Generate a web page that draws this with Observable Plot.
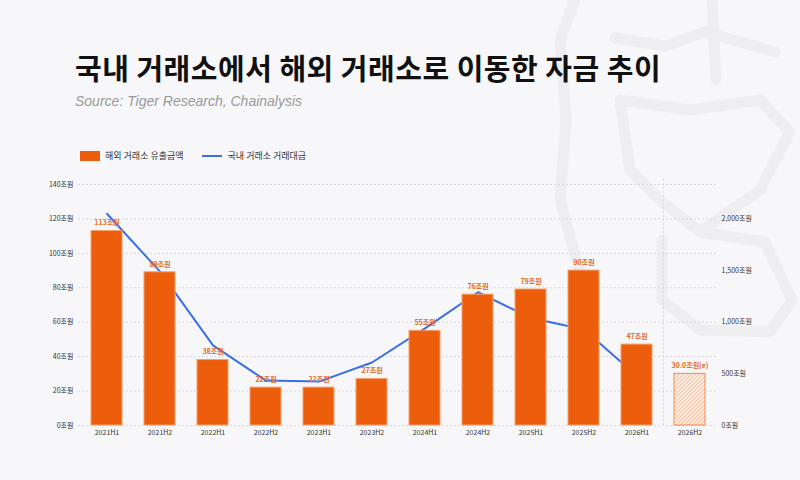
<!DOCTYPE html>
<html><head><meta charset="utf-8">
<script src="https://cdn.jsdelivr.net/npm/d3@7"></script>
<script src="https://cdn.jsdelivr.net/npm/@observablehq/plot@0.6"></script>
<style>
body{margin:0;width:800px;height:480px;background:#f7f7f9;position:relative;overflow:hidden;font-family:"Noto Sans CJK KR","Noto Sans",sans-serif;}
#wm{position:absolute;left:0;top:0}
#title{position:absolute;left:75px;top:46px;font-size:29px;font-weight:700;color:#111;letter-spacing:0.5px;white-space:nowrap}
#sub{position:absolute;left:75px;top:93px;font:italic 14px "Liberation Sans",Arial,sans-serif;color:#9a9a9a}
#legend{position:absolute;left:80px;top:149px;font-size:9px;color:#333;display:flex;align-items:center;white-space:nowrap}
#chart{position:absolute;left:0;top:170px}
</style></head>
<body>
<svg id="wm" width="800" height="480" fill="none" stroke="#eeeef1" stroke-width="11" stroke-linejoin="round" stroke-linecap="round">
  <path d="M575 0 L560 40 L566 120 L560 200 L580 272"/>
  <path d="M615 38 L665 46 L705 32 L775 52"/>
  <path d="M712 0 L716 80"/>
  <path d="M620 100 L690 110 L760 100 L790 132 L760 190 L700 232 L660 200 L630 170 Z"/>
  <path d="M700 232 L765 242 L792 300 L770 332 L700 330 L662 300 L662 240"/>
</svg>
<div id="title">국내 거래소에서 해외 거래소로 이동한 자금 추이</div>
<div id="sub">Source: Tiger Research, Chainalysis</div>
<div id="legend">
  <span style="display:inline-block;width:20px;height:10px;background:#EC5E0C;margin-right:5px"></span>
  <span>해외 거래소 유출금액</span>
  <span style="display:inline-block;width:20px;height:2px;background:#3b6fe3;margin:0 6px 0 18px"></span>
  <span>국내 거래소 거래대금</span>
</div>
<div id="chart"></div>
<script>
const periods = ["2021H1","2021H2","2022H1","2022H2","2023H1","2023H2","2024H1","2024H2","2025H1","2025H2","2026H1","2026H2"];
const outflow = [113, 89, 38, 22, 22, 27, 55, 76, 79, 90, 47, 30];
const outflowLabels = ["113조원","89조원","38조원","22조원","22조원","27조원","55조원","76조원","79조원","90조원","47조원","30.0조원(e)"];
const volume = [2050, 1490, 775, 435, 425, 610, 940, 1290, 1040, 930, 480];
const leftTicks = [0, 20, 40, 60, 80, 100, 120, 140];
const rightTicks = [0, 500, 1000, 1500, 2000];
const estimatePeriod = "2026H2";

const k = 120 / 2000; // right-axis units -> left-axis units
const bars = periods.map((p, i) => ({p, v: outflow[i], label: outflowLabels[i], est: p === estimatePeriod}));
const lineData = volume.map((v, i) => ({p: periods[i], v: v * k}));

const defs = () => {
  const g = d3.create("svg:g");
  const pat = g.append("defs").append("pattern")
    .attr("id", "hatch").attr("patternUnits", "userSpaceOnUse")
    .attr("width", 2.8).attr("height", 2.8).attr("patternTransform", "rotate(45)");
  pat.append("rect").attr("width", 2.8).attr("height", 2.8).attr("fill", "#fdf0e7");
  pat.append("line").attr("x1", 0).attr("y1", 0).attr("x2", 0).attr("y2", 2.8)
    .attr("stroke", "#ef8a52").attr("stroke-width", 1);
  return g.node();
};

const chart = Plot.plot({
  width: 800, height: 300,
  marginTop: 14, marginBottom: 45, marginLeft: 78, marginRight: 83,
  style: {background: "transparent", fontFamily: '"Noto Sans CJK KR","Noto Sans",sans-serif', fontSize: "7px", color: "#333", overflow: "visible"},
  x: {domain: periods, paddingInner: 0.42, paddingOuter: 0.215, label: null},
  y: {domain: [0, 140], label: null},
  marks: [
    defs,
    Plot.ruleY(leftTicks, {stroke: "#cfcfd6", strokeDasharray: "2,2", strokeWidth: 0.8}),
    Plot.ruleX([estimatePeriod], {y1: 0, y2: 144, dx: -26.6, stroke: "#cfcfd6", strokeDasharray: "2,2", strokeWidth: 0.8}),
    Plot.line(lineData, {x: "p", y: "v", stroke: "#3b6fe3", strokeWidth: 2}),
    Plot.barY(bars.filter(d => !d.est), {x: "p", y: "v", fill: "#EC5E0C", stroke: "#f5a06a", strokeWidth: 1}),
    Plot.barY(bars.filter(d => d.est), {x: "p", y: "v", fill: "url(#hatch)", stroke: "#ef8a52", strokeWidth: 1}),
    Plot.text(bars, {x: "p", y: "v", text: "label", dy: -8, fill: "#E8661F", fontWeight: 700, fontSize: 7}),
    Plot.axisY(leftTicks, {tickSize: 0, tickPadding: 5, tickFormat: d => d + "조원", fontSize: 7}),
    Plot.axisY(rightTicks.map(t => t * k), {anchor: "right", tickSize: 0, tickPadding: 4, tickFormat: d => d3.format(",")(Math.round(d / k)) + "조원", fontSize: 7}),
    Plot.axisX({tickSize: 0, tickPadding: 5, fontSize: 7})
  ]
});
document.getElementById("chart").appendChild(chart);
</script>
</body></html>
